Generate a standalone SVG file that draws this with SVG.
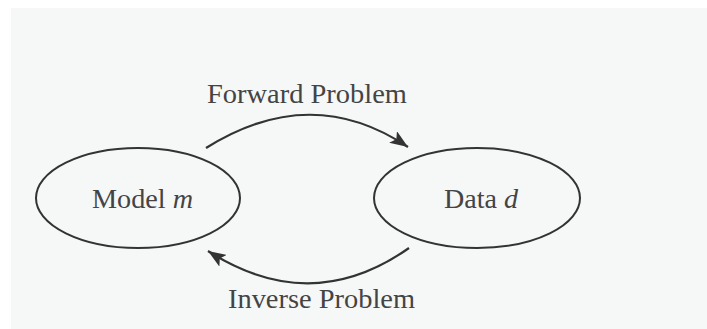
<svg xmlns="http://www.w3.org/2000/svg" width="707" height="329" viewBox="0 0 707 329">
<style>
.node ellipse{fill:none;stroke:#333;stroke-width:2}
.lbl{font-family:"Liberation Serif","Times New Roman",serif;font-size:27px;fill:#444;text-anchor:middle}
.conn path{fill:none;stroke:#333;stroke-width:2.2}
</style>
<defs>
<marker id="ah" markerUnits="userSpaceOnUse" markerWidth="20" markerHeight="14" refX="18" refY="7" orient="auto">
<path d="M0,0 L18,7 L0,14 L4,7 Z" fill="#333"/>
</marker>
</defs>
<rect width="707" height="329" fill="#ffffff"/>
<rect x="11" y="8" width="696" height="321" fill="#f6f7f7"/>
<g id="model" class="node">
<ellipse cx="138" cy="198" rx="102" ry="50"/>
<text class="lbl" x="142.5" y="208" textLength="101" lengthAdjust="spacingAndGlyphs">Model <tspan font-style="italic">m</tspan></text>
</g>
<g id="data" class="node">
<ellipse cx="477" cy="198" rx="103" ry="50"/>
<text class="lbl" x="481" y="208" textLength="74" lengthAdjust="spacingAndGlyphs">Data <tspan font-style="italic">d</tspan></text>
</g>
<g class="conn" id="connectors">
<path d="M206,148 Q311,82 408,147" marker-end="url(#ah)"/>
<path d="M409,248 Q311,317 208,251" marker-end="url(#ah)"/>
</g>
<text class="lbl" x="307" y="103" textLength="200" lengthAdjust="spacingAndGlyphs">Forward Problem</text>
<text class="lbl" x="321.5" y="308" textLength="187" lengthAdjust="spacingAndGlyphs">Inverse Problem</text>
</svg>
